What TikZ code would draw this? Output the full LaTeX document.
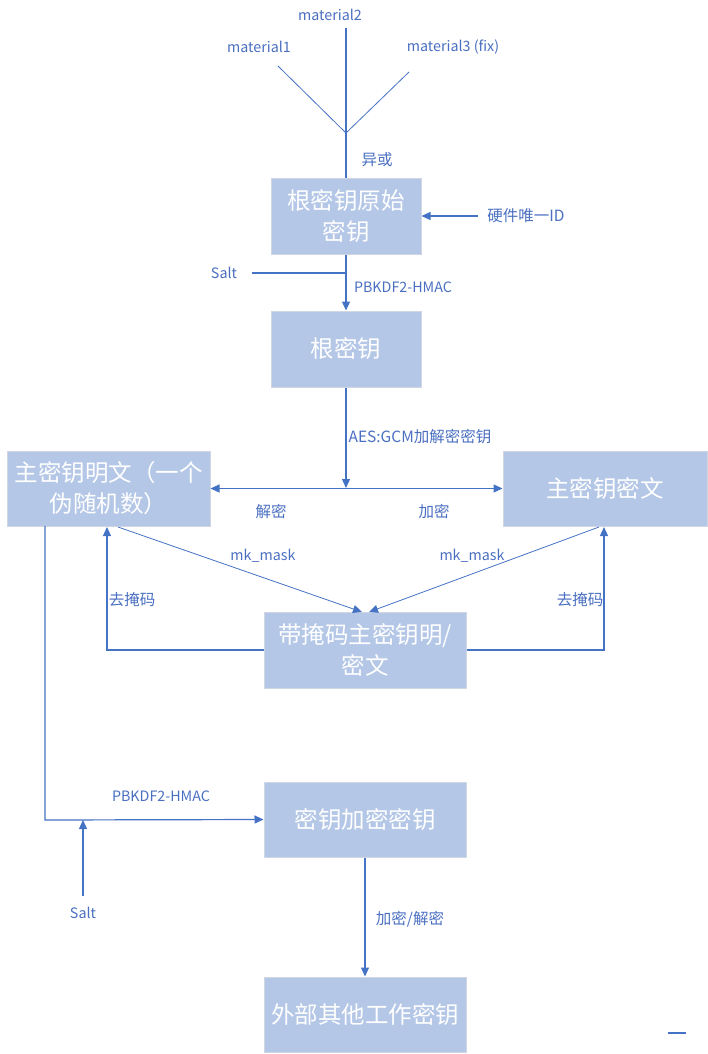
\documentclass[tikz,border=0pt]{standalone}
\usepackage{fontspec}
\setmainfont{Noto Sans CJK SC}
\usetikzlibrary{arrows.meta}
\definecolor{boxfill}{HTML}{B4C7E7}
\definecolor{boxline}{HTML}{D0D7E3}
\definecolor{ln}{HTML}{4472C4}
\definecolor{lbl}{HTML}{4A6FC0}
\tikzset{
  box/.style={fill=boxfill, draw=boxline, line width=1pt, text=white, align=center, inner sep=0pt, font=\fontsize{23.5}{31}\selectfont},
  lab/.style={text=lbl, inner sep=0pt, font=\fontsize{14.3}{17}\selectfont},
  labc/.style={text=lbl, inner sep=0pt, font=\fontsize{15.5}{18}\selectfont},
  conn/.style={draw=ln, line width=1.2pt},
  thin/.style={draw=ln, line width=0.8pt},
  arr/.style={-{Triangle[length=9pt,width=8pt]}},
  darr/.style={{Triangle[length=9pt,width=8pt]}-{Triangle[length=9pt,width=8pt]}}
}
\begin{document}
\begin{tikzpicture}[x=1pt,y=-1pt]
\useasboundingbox (0,0) rectangle (707,1054);
% boxes
\node[box, minimum width=150pt, minimum height=76pt] (b1) at (346,216) {根密钥原始\\密钥};
\node[box, minimum width=150pt, minimum height=76pt] (b2) at (346,349) {根密钥};
\node[box, minimum width=203pt, minimum height=75pt] (b3) at (108.5,488.5) {主密钥明文（一个\\伪随机数）};
\node[box, minimum width=204pt, minimum height=75pt] (b4) at (605,488.5) {主密钥密文};
\node[box, minimum width=202pt, minimum height=76pt] (b5) at (365,650) {带掩码主密钥明/\\密文};
\node[box, minimum width=202pt, minimum height=75pt] (b6) at (365,819.5) {密钥加密密钥};
\node[box, minimum width=202pt, minimum height=75pt] (b7) at (365,1014.5) {外部其他工作密钥};
% labels
\node[lab] (m2) at (330,15) {material2};
\node[lab] (m1) at (259,47) {material1};
\node[lab] (m3) at (453,47) {material3 (fix)};
\node[labc] (xor) at (377,160) {异或};
\node[labc] (hw) at (526,216) {硬件唯一ID};
\node[lab] (salt1) at (224,273) {Salt};
\node[lab] (pb1) at (403,287) {PBKDF2-HMAC};
\node[labc] (aes) at (420,437) {AES:GCM加解密密钥};
\node[labc] (dec) at (271,512) {解密};
\node[labc] (enc) at (434,512) {加密};
\node[lab] (mk1) at (263,556) {mk\_mask};
\node[lab] (mk2) at (472,556) {mk\_mask};
\node[labc] (um1) at (132,600) {去掩码};
\node[labc] (um2) at (580,600) {去掩码};
\node[lab] (pb2) at (161,796) {PBKDF2-HMAC};
\node[lab] (salt2) at (83,913) {Salt};
\node[labc] (ed) at (410,919) {加密/解密};
% coordinates
\coordinate (m2s) at (346,28);
\coordinate (m1s) at (278,66);
\coordinate (m3s) at (409,72);
\coordinate (xj) at (346,133);
\coordinate (hws) at (478,216);
\coordinate (s1s) at (252,273);
\coordinate (s1e) at (346,273);
\coordinate (hj) at (346,488);
\coordinate (d1s) at (118,527);
\coordinate (d1e) at (362,612);
\coordinate (d2s) at (599,527);
\coordinate (d2e) at (369,612);
\coordinate (l1) at (107,650);
\coordinate (r1) at (604,650);
\coordinate (pk) at (45,820);
\coordinate (s2s) at (83,896);
\coordinate (s2e) at (83,820);
% connectors
\draw[conn] (m2s) -- (b1.north);
\draw[thin] (m1s) -- (xj);
\draw[thin] (m3s) -- (xj);
\draw[conn, arr] (hws) -- (b1.east);
\draw[conn] (s1s) -- (s1e);
\draw[conn, arr] (b1.south) -- (b2.north);
\draw[conn, arr] (b2.south) -- (hj);
\draw[conn, darr] (b3.east) -- (b4.west);
\draw[thin, arr] (d1s) -- (d1e);
\draw[thin, arr] (d2s) -- (d2e);
\draw[conn, arr] (b5.west) -- (l1) -- (107,527);
\draw[conn, arr] (b5.east) -- (r1) -- (604,527);
\draw[conn, arr] (45,526) -- (pk) -- (b6.west);
\draw[conn, arr] (s2s) -- (s2e);
\draw[conn, arr] (b6.south) -- (b7.north);
\coordinate (dsh1) at (668,1033);
\coordinate (dsh2) at (686,1033);
\draw[conn] (dsh1) -- (dsh2);
\end{tikzpicture}
\end{document}
